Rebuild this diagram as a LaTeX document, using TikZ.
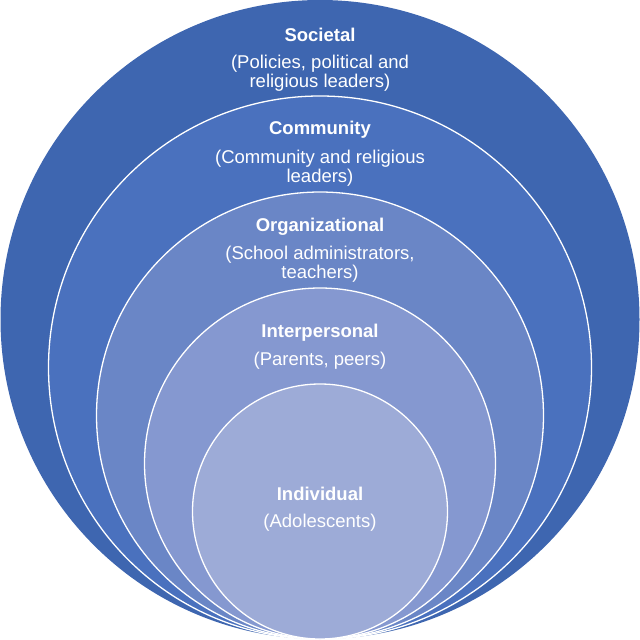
\documentclass[tikz,border=0pt]{standalone}
\usepackage{fontspec}
\setmainfont{Liberation Sans}
\definecolor{cA}{HTML}{3E66B0}
\definecolor{cB}{HTML}{4A71BE}
\definecolor{cC}{HTML}{6A86C6}
\definecolor{cD}{HTML}{8598D0}
\definecolor{cE}{HTML}{9DABD7}
\begin{document}
\begin{tikzpicture}[x=1pt,y=-1pt,
  ring/.style={draw=white,line width=1.3pt},
  ttl/.style={text=white,font=\fontsize{18.5}{19.3}\selectfont\bfseries,inner sep=0pt},
  sub/.style={text=white,font=\fontsize{18.5}{19.3}\selectfont,align=center,inner sep=0pt}]
\useasboundingbox (0,0) rectangle (640,640);
\fill[cA] (320,319.5) circle (319.5);
\filldraw[ring,fill=cB] (320,367.5) circle (271.5);
\filldraw[ring,fill=cC] (320,415.5) circle (223.5);
\filldraw[ring,fill=cD] (320,463.5) circle (175.5);
\filldraw[ring,fill=cE] (320,511.5) circle (127.5);
\node[ttl] (t1) at (320,35) {Societal};
\node[sub] (s1) at (320,73) {(Policies, political and\\religious leaders)};
\node[ttl] (t2) at (320,130) {Community};
\node[sub] (s2) at (320,168) {(Community and religious\\leaders)};
\node[ttl] (t3) at (320,226.5) {Organizational};
\node[sub] (s3) at (320,264) {(School administrators,\\teachers)};
\node[ttl] (t4) at (320,332.5) {Interpersonal};
\node[sub] (s4) at (320,361) {(Parents, peers)};
\node[ttl] (t5) at (320,493.5) {Individual};
\node[sub] (s5) at (320,522.5) {(Adolescents)};
\end{tikzpicture}
\end{document}
